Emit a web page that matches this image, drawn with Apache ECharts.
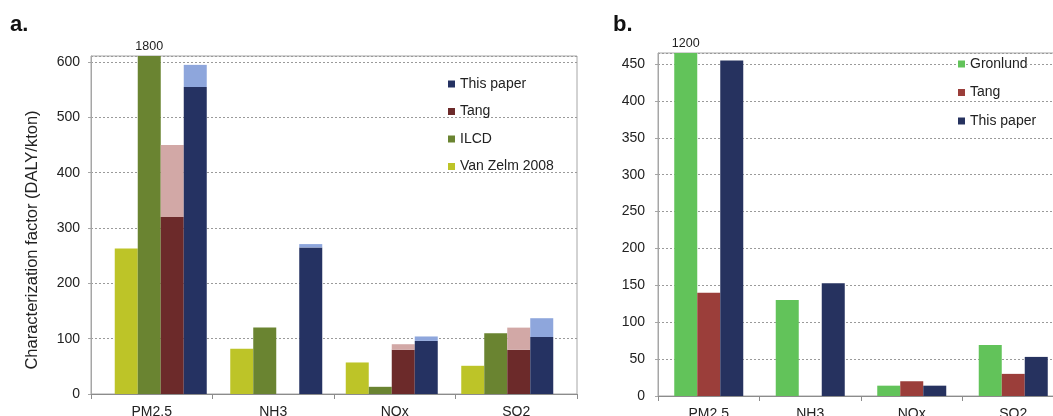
<!DOCTYPE html>
<html>
<head>
<meta charset="utf-8">
<script src="https://cdn.jsdelivr.net/npm/echarts@6/dist/echarts.min.js"></script>
<style>
  html, body { margin: 0; padding: 0; background: #fff; }
  #chart { width: 1053px; height: 416px; }
</style>
</head>
<body>
<div id="chart"></div>
<script>
// Pollutant categories shared by both panels
const categories = ['PM2.5', 'NH3', 'NOx', 'SO2'];

// Panel a: characterization factors (DALY/kton)
const vanZelm = [263, 82, 57, 51];
const ilcd = [1800, 120, 13, 110];
const tangLow = [320, null, 80, 80];
const tangHigh = [450, null, 90, 120];
const paperLow = [555, 265, 96, 103];
const paperHigh = [595, 271, 104, 137];

// Panel b
const gronlund = [1200, 130, 14, 69];
const tangB = [140, null, 20, 30];
const paperB = [455, 153, 14, 53];

// Axis extents
const maxA = 611, stepA = 100;
const maxB = 465, stepB = 50;
const yTitle = 'Characterization factor (DALY/kton)';

const FONT = '"Liberation Sans", Arial, sans-serif';
const TXT = '#222';
const FRAME = '#a6a6a6';

const C = {
  vanZelm: '#bdc428',
  ilcd: '#6a8431',
  tang: '#6c2a2a',
  tangRange: '#d2a8a6',
  paper: '#253262',
  paperRange: '#8ea6dc',
  gronlund: '#62c35a',
  tangB: '#9b3e3a',
  paperB: '#26325f'
};

// Values above the axis top are clipped and get a value label
function capped(values, max) {
  return values.map(v => (v != null && v > max)
    ? { value: v, label: { show: true, position: 'top', distance: 3, formatter: String(v),
        fontSize: 12.5, color: TXT, fontFamily: FONT } }
    : v);
}
function diff(hi, lo) {
  return hi.map((h, i) => (h == null || lo[i] == null) ? null : h - lo[i]);
}

function bar(name, data, color, xi, yi, stack) {
  const s = {
    type: 'bar', name, data, xAxisIndex: xi, yAxisIndex: yi,
    barWidth: 23, barGap: '0%', itemStyle: { color }, emphasis: { disabled: true }
  };
  if (stack) s.stack = stack;
  return s;
}

const splitLine = { show: true, lineStyle: { type: [2, 2], color: '#9a9a9a', width: 1 } };
const catAxis = (gi) => ({
  gridIndex: gi, type: 'category', data: categories,
  axisLine: { lineStyle: { color: '#8c8c8c' } },
  axisTick: { show: true, length: 5, lineStyle: { color: '#8c8c8c' } },
  axisLabel: { color: TXT, fontSize: 14, fontFamily: FONT, margin: 11 }
});
const valAxis = (gi, max, step, margin) => ({
  gridIndex: gi, type: 'value', min: 0, max, interval: step,
  axisLine: { show: true, lineStyle: { color: FRAME } },
  axisTick: { show: true, length: 3, lineStyle: { color: FRAME } },
  axisLabel: { color: TXT, fontSize: 14, fontFamily: FONT, margin, showMaxLabel: false },
  splitLine
});

const legendText = { fontSize: 14, color: TXT, lineHeight: 14, fontFamily: FONT };
const panelTitle = { fontSize: 22, fontWeight: 'bold', color: '#111', fontFamily: FONT };
const gridBase = { outerBoundsMode: 'none', containLabel: false };

const option = {
  animation: false,
  textStyle: { fontFamily: FONT },
  title: [
    { text: 'a.', left: 10, top: 14, padding: 0, textStyle: panelTitle },
    { text: 'b.', left: 613, top: 14, padding: 0, textStyle: panelTitle }
  ],
  graphic: [{
    type: 'text', x: 32, y: 240, rotation: Math.PI / 2,
    style: { text: yTitle, align: 'center', verticalAlign: 'middle', fill: TXT,
      font: '16.5px "Liberation Sans", Arial, sans-serif' }
  }],
  grid: [
    Object.assign({ left: 91, top: 56, width: 486, height: 338, show: true, borderColor: FRAME, borderWidth: 1, backgroundColor: 'transparent' }, gridBase),
    Object.assign({ left: 103, top: 56, width: 462, height: 338 }, gridBase),
    Object.assign({ left: 658, top: 53, width: 406, height: 343, show: true, borderColor: FRAME, borderWidth: 1, backgroundColor: 'transparent' }, gridBase)
  ],
  xAxis: [
    catAxis(0),
    { gridIndex: 1, type: 'category', data: categories, show: false },
    catAxis(2)
  ],
  yAxis: [
    valAxis(0, maxA, stepA, 11),
    { gridIndex: 1, type: 'value', min: 0, max: maxA, show: false, splitLine: { show: false } },
    valAxis(2, maxB, stepB, 13)
  ],
  legend: [
    {
      data: [
        { name: 'This paper', itemStyle: { color: C.paper } },
        { name: 'Tang', itemStyle: { color: C.tang } },
        { name: 'ILCD', itemStyle: { color: C.ilcd } },
        { name: 'Van Zelm 2008', itemStyle: { color: C.vanZelm } }
      ],
      orient: 'vertical', left: 448, top: 77, padding: 0, itemWidth: 7, itemHeight: 7, itemGap: 13.5,
      icon: 'rect', selectedMode: false, textStyle: legendText
    },
    {
      data: [
        { name: 'Gronlund', itemStyle: { color: C.gronlund } },
        { name: 'Tang', itemStyle: { color: C.tangB } },
        { name: 'This paper', itemStyle: { color: C.paperB } }
      ],
      orient: 'vertical', left: 958, top: 57, padding: 0, itemWidth: 7, itemHeight: 7, itemGap: 14.5,
      icon: 'rect', selectedMode: false,
      textStyle: Object.assign({ backgroundColor: '#fff' }, legendText)
    }
  ],
  series: [
    bar('Van Zelm 2008', vanZelm, C.vanZelm, 1, 1),
    bar('ILCD', capped(ilcd, maxA), C.ilcd, 1, 1),
    bar('Tang', tangLow, C.tang, 1, 1, 'tang'),
    bar('Tang range', diff(tangHigh, tangLow), C.tangRange, 1, 1, 'tang'),
    bar('This paper', paperLow, C.paper, 1, 1, 'paper'),
    bar('This paper range', diff(paperHigh, paperLow), C.paperRange, 1, 1, 'paper'),

    bar('Gronlund', capped(gronlund, maxB), C.gronlund, 2, 2),
    bar('Tang', tangB, C.tangB, 2, 2),
    bar('This paper', paperB, C.paperB, 2, 2)
  ]
};

const chart = echarts.init(document.getElementById('chart'), null, { renderer: 'canvas' });
chart.setOption(option);
</script>
</body>
</html>
